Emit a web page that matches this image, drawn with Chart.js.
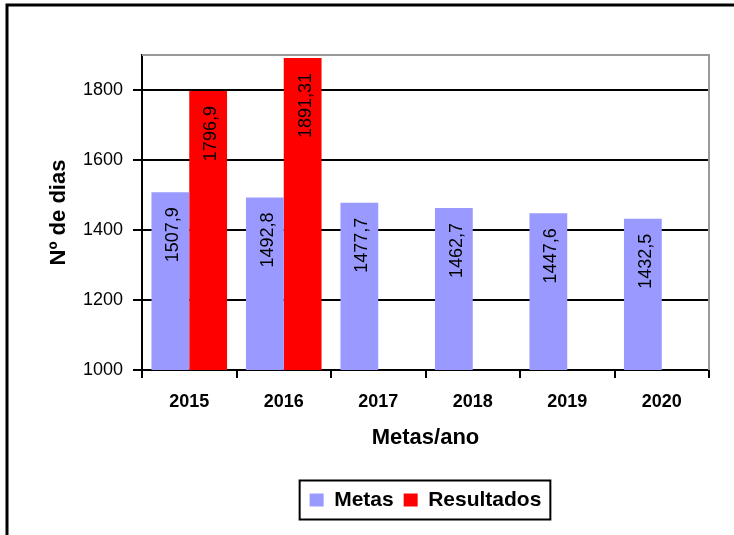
<!DOCTYPE html>
<html>
<head>
<meta charset="utf-8">
<script src="https://cdn.jsdelivr.net/npm/chart.js@4.4.0/dist/chart.umd.min.js"></script>
<style>
  body { margin: 0; background: #fff; }
  #wrap { width: 734px; height: 535px; }
</style>
</head>
<body>
<div id="wrap"><canvas id="metas-chart" width="734" height="535"></canvas></div>
<script>
const anos = ["2015", "2016", "2017", "2018", "2019", "2020"];
const metas = [1507.9, 1492.8, 1477.7, 1462.7, 1447.6, 1432.5];
const resultados = [1796.9, 1891.31, null, null, null, null];
const yTicks = { min: 1000, max: 1900, step: 200 };

const FONT = "'Liberation Sans', Arial, sans-serif";

// outer frame, grey plot border, legend border
const framePlugin = {
  id: "frame",
  beforeDraw(chart) {
    const ctx = chart.ctx;
    ctx.save();
    ctx.fillStyle = "#fff";
    ctx.fillRect(0, 0, chart.width, chart.height);
    ctx.strokeStyle = "#000";
    ctx.lineWidth = 3;
    ctx.strokeRect(7, 5, chart.width + 50, chart.height + 50);
    ctx.restore();
  },
  afterDraw(chart) {
    const ctx = chart.ctx;
    const a = chart.chartArea;
    ctx.save();
    ctx.strokeStyle = "#999";
    ctx.lineWidth = 2;
    ctx.beginPath();
    ctx.moveTo(a.left, a.top);
    ctx.lineTo(a.right, a.top);
    ctx.lineTo(a.right, a.bottom);
    ctx.stroke();

    const lg = chart.legend;
    const hb = lg.legendHitBoxes;
    if (hb && hb.length) {
      const last = hb[hb.length - 1];
      const x1 = hb[0].left - 10;
      const x2 = last.left + last.width + 9;
      ctx.strokeStyle = "#000";
      ctx.lineWidth = 2;
      ctx.strokeRect(x1, lg.top + 1, x2 - x1, lg.bottom - lg.top - 2);
    }
    ctx.restore();
  },
};

// rotated value labels inside the bars
const valueLabels = {
  id: "valueLabels",
  afterDatasetsDraw(chart) {
    const ctx = chart.ctx;
    ctx.save();
    ctx.font = "18px " + FONT;
    ctx.fillStyle = "#000";
    ctx.textAlign = "right";
    ctx.textBaseline = "middle";
    chart.data.datasets.forEach((ds, i) => {
      const meta = chart.getDatasetMeta(i);
      meta.data.forEach((bar, j) => {
        const v = ds.data[j];
        if (v === null || v === undefined) return;
        ctx.save();
        ctx.translate(bar.x, bar.y + 15);
        ctx.rotate(-Math.PI / 2);
        ctx.fillText(String(v).replace(".", ","), 0, 3);
        ctx.restore();
      });
    });
    ctx.restore();
  },
};

function createChart() {
  const ctx = document.getElementById("metas-chart");

  new Chart(ctx, {
    type: "bar",
    data: {
      labels: anos,
      datasets: [
        {
          label: "Metas",
          data: metas,
          backgroundColor: "#9999FF",
          borderColor: "#9999FF",
          borderWidth: 0,
        },
        {
          label: "Resultados",
          data: resultados,
          backgroundColor: "#FF0000",
          borderColor: "#FF0000",
          borderWidth: 0,
        },
      ],
    },
    options: {
      responsive: false,
      animation: false,
      devicePixelRatio: 1,
      categoryPercentage: 0.8,
      barPercentage: 1.0,
      layout: {
        padding: { top: 55, right: 25, left: 0, bottom: 14.5 },
      },
      plugins: {
        tooltip: { enabled: false },
        legend: {
          position: "bottom",
          fullSize: false,
          labels: {
            color: "#000",
            font: { family: FONT, size: 21, weight: "bold" },
            boxWidth: 14,
            boxHeight: 13,
            padding: 10,
          },
        },
      },
      scales: {
        x: {
          afterFit(scale) {
            scale.height = 109.5;
          },
          grid: {
            offset: true,
            drawOnChartArea: false,
            drawTicks: true,
            tickLength: 8,
            color: "#000",
            lineWidth: 2,
          },
          border: { color: "#000", width: 2 },
          ticks: {
            color: "#000",
            padding: 13,
            font: { family: FONT, size: 18, weight: "bold" },
          },
          title: {
            display: true,
            text: "Metas/ano",
            color: "#000",
            font: { family: FONT, size: 22, weight: "bold" },
            padding: { top: 0, bottom: 28 },
          },
        },
        y: {
          min: yTicks.min,
          max: yTicks.max,
          afterFit(scale) {
            scale.width = 142;
          },
          grid: {
            color: "#000",
            lineWidth: 2,
            tickLength: 9,
          },
          border: { color: "#000", width: 2 },
          ticks: {
            stepSize: yTicks.step,
            includeBounds: false,
            color: "#000",
            padding: 10,
            font: { family: FONT, size: 18 },
            callback: (value) => String(value),
          },
          title: {
            display: true,
            text: "Nº de dias",
            color: "#000",
            font: { family: FONT, size: 22, weight: "bold" },
            padding: { top: 46, bottom: 0 },
          },
        },
      },
    },
    plugins: [framePlugin, valueLabels],
  });
}

createChart();
</script>
</body>
</html>
